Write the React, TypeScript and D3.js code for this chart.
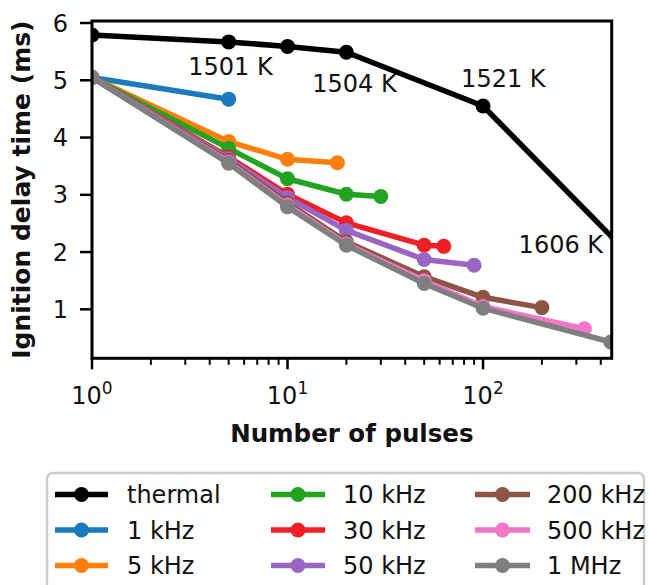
import React from "react";
import * as d3 from "d3";

// ---- data ----
const seriesNames = ["thermal", "1 kHz", "5 kHz", "10 kHz", "30 kHz", "50 kHz", "200 kHz", "500 kHz", "1 MHz"];
const seriesColors = ["#000000", "#1a7abb", "#ff7f0e", "#22a322", "#ee1f26", "#9a66c4", "#8e5443", "#f277c8", "#7f7f7f"];

const thermalN = [1, 5, 10, 20, 100, 1000];
const thermalT = [5.79, 5.67, 5.59, 5.49, 4.55, 1.08];
const k1N = [1, 5];
const k1T = [5.05, 4.67];
const k5N = [1, 5, 10, 18];
const k5T = [5.05, 3.93, 3.62, 3.56];
const k10N = [1, 5, 10, 20, 30];
const k10T = [5.05, 3.81, 3.28, 3.01, 2.97];
const k30N = [1, 5, 10, 20, 50, 63];
const k30T = [5.05, 3.66, 3.01, 2.51, 2.12, 2.1];
const k50N = [1, 5, 10, 20, 50, 90];
const k50T = [5.05, 3.63, 2.95, 2.38, 1.87, 1.77];
const k200N = [1, 5, 10, 20, 50, 100, 200];
const k200T = [5.05, 3.6, 2.86, 2.18, 1.57, 1.21, 1.03];
const k500N = [1, 5, 10, 20, 50, 100, 330];
const k500T = [5.05, 3.57, 2.82, 2.14, 1.5, 1.05, 0.66];
const m1N = [1, 5, 10, 20, 50, 100, 450];
const m1T = [5.05, 3.55, 2.79, 2.12, 1.45, 1.02, 0.43];

const seriesN = [thermalN, k1N, k5N, k10N, k30N, k50N, k200N, k500N, m1N];
const seriesT = [thermalT, k1T, k5T, k10T, k30T, k50T, k200T, k500T, m1T];

const yTicks = [1, 2, 3, 4, 5, 6];
const xMajorTicks = [1, 10, 100];
const xMinorTicks = [2, 3, 4, 5, 6, 7, 8, 9, 20, 30, 40, 50, 60, 70, 80, 90, 200, 300, 400];

const annotationText = ["1501 K", "1504 K", "1521 K", "1606 K"];
const annotationN = [5.11, 22.0, 127, 250];
const annotationT = [5.09, 4.795, 4.877, 1.99];

const FONT = "'DejaVu Sans', sans-serif";

export default function App() {
  const W = 650, H = 585;
  const left = 92, right = 611.7, top = 21, bottom = 358.3;
  const x = d3.scaleLog().domain([1, 455]).range([left, right]);
  const y = d3.scaleLinear().domain([0.145, 6.035]).range([bottom, top]);

  const line = d3
    .line<[number, number]>()
    .x((d) => x(d[0]))
    .y((d) => y(d[1]));

  const legendCols = [
    { lx1: 55, lx2: 108, tx: 127 },
    { lx1: 271, lx2: 325, tx: 343 },
    { lx1: 475, lx2: 530, tx: 547 },
  ];
  const legendRows = [494.5, 530, 565.5];

  return (
    <svg
      width={W}
      height={H}
      style={{ position: "absolute", left: 0, top: 0, display: "block", background: "#fff" }}
      fontFamily={FONT}
    >
      <defs>
        <clipPath id="plotclip">
          <rect x={left} y={top} width={right - left} height={bottom - top} />
        </clipPath>
      </defs>
      <rect x={0} y={0} width={W} height={H} fill="#fff" />

      {/* data */}
      <g clipPath="url(#plotclip)">
        {seriesNames.map((name, i) => {
          const pts: [number, number][] = seriesN[i].map((n, j) => [n, seriesT[i][j]]);
          return (
            <g key={name}>
              <path d={line(pts) || ""} fill="none" stroke={seriesColors[i]} strokeWidth={5.5} strokeLinejoin="round" />
              {pts.map((p, j) => (
                <circle key={j} cx={x(p[0])} cy={y(p[1])} r={7.5} fill={seriesColors[i]} />
              ))}
            </g>
          );
        })}
      </g>

      {/* annotations */}
      {annotationText.map((t, i) => (
        <text key={t} x={x(annotationN[i])} y={y(annotationT[i])} fontSize={24} textAnchor="middle" fill="#111">
          {t}
        </text>
      ))}

      {/* spines */}
      <rect x={left} y={top} width={right - left} height={bottom - top} fill="none" stroke="#000" strokeWidth={3} />

      {/* y ticks */}
      {yTicks.map((t) => (
        <g key={t}>
          <line x1={left - 12} x2={left} y1={y(t)} y2={y(t)} stroke="#000" strokeWidth={2.5} />
          <text x={left - 24} y={y(t)} dy="0.36em" fontSize={24} textAnchor="end" fill="#111">
            {t}
          </text>
        </g>
      ))}

      {/* x ticks */}
      {xMinorTicks.map((t) => (
        <line key={t} x1={x(t)} x2={x(t)} y1={bottom} y2={bottom + 6.5} stroke="#000" strokeWidth={2} />
      ))}
      {xMajorTicks.map((t) => (
        <g key={t}>
          <line x1={x(t)} x2={x(t)} y1={bottom} y2={bottom + 11} stroke="#000" strokeWidth={2.5} />
          <text x={x(t)} y={404} fontSize={24} textAnchor="middle" fill="#111">
            <tspan>10</tspan>
            <tspan dy={-10} fontSize={17}>
              {String(Math.round(Math.log10(t)))}
            </tspan>
          </text>
        </g>
      ))}

      {/* axis labels */}
      <text x={(left + right) / 2} y={442} fontSize={24.5} fontWeight="bold" textAnchor="middle" fill="#111">
        Number of pulses
      </text>
      <text
        transform={`translate(30, ${(top + bottom) / 2}) rotate(-90)`}
        fontSize={25}
        fontWeight="bold"
        textAnchor="middle"
        fill="#111"
      >
        Ignition delay time (ms)
      </text>

      {/* legend */}
      <rect x={47} y={473} width={597} height={130} rx={6} ry={6} fill="#fff" stroke="#cccccc" strokeWidth={2.5} />
      {seriesNames.map((name, i) => {
        const col = legendCols[Math.floor(i / 3)];
        const ry = legendRows[i % 3];
        return (
          <g key={name}>
            <line x1={col.lx1} x2={col.lx2} y1={ry} y2={ry} stroke={seriesColors[i]} strokeWidth={5.5} />
            <circle cx={(col.lx1 + col.lx2) / 2} cy={ry} r={7.5} fill={seriesColors[i]} />
            <text x={col.tx} y={ry} dy="0.36em" fontSize={24} fill="#111">
              {name}
            </text>
          </g>
        );
      })}
    </svg>
  );
}
